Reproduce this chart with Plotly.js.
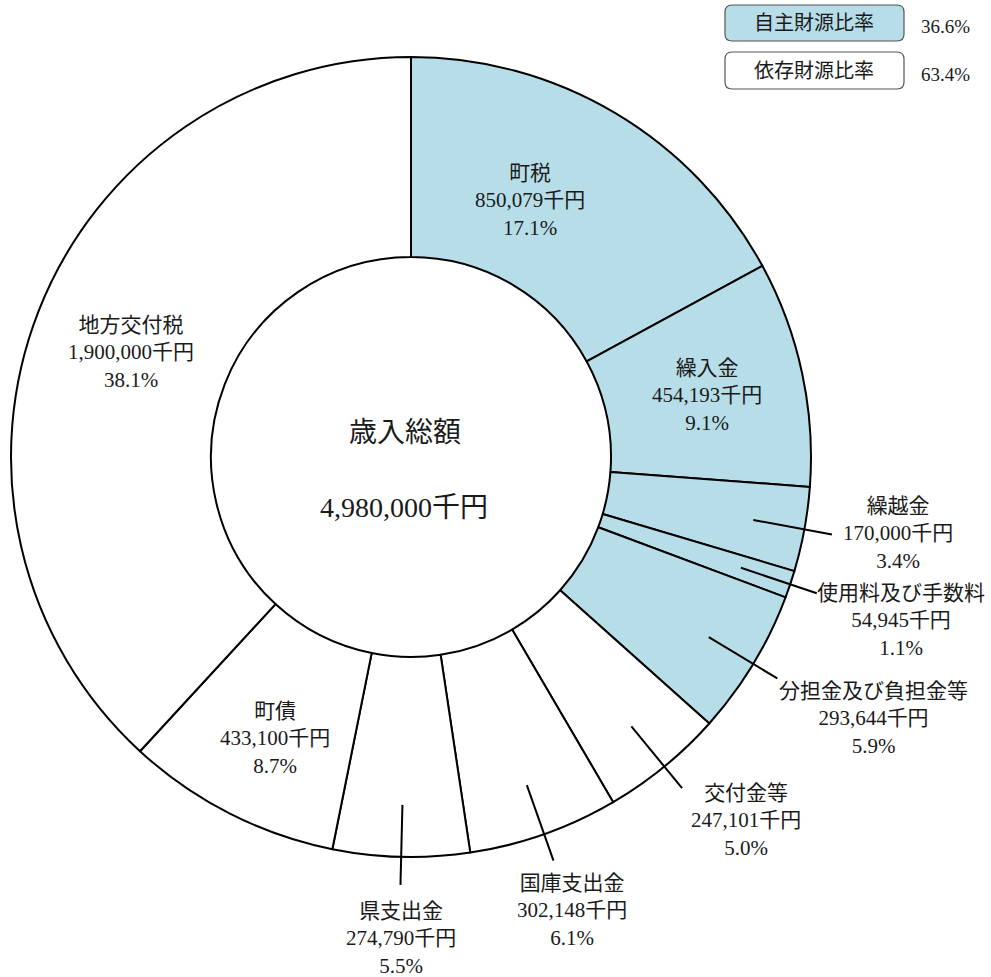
<!DOCTYPE html>
<html>
<head>
<meta charset="utf-8">
<script src="https://cdn.plot.ly/plotly-3.0.1.min.js"></script>
<style>html,body{margin:0;padding:0;background:#fff;}#chart{width:991px;height:977px;}</style>
</head>
<body>
<div id="chart"></div>
<script>
// ---- data ----
const categories = ['町税','繰入金','繰越金','使用料及び手数料','分担金及び負担金等','交付金等','国庫支出金','県支出金','町債','地方交付税'];
const values = [850079, 454193, 170000, 54945, 293644, 247101, 302148, 274790, 433100, 1900000];
const percentLabels = ['17.1%','9.1%','3.4%','1.1%','5.9%','5.0%','6.1%','5.5%','8.7%','38.1%'];
const sourceGroup = ['自主','自主','自主','自主','自主','依存','依存','依存','依存','依存'];
const ratioLabels = ['自主財源比率','依存財源比率'];
const ratioValues = ['36.6%','63.4%'];
const totalTitle = '歳入総額';
const unit = '千円';

// ---- layout helpers ----
const W = 991, H = 977;
const px = x => x / W;
const py = y => 1 - y / H;
const FONT = "'Liberation Serif', 'Noto Sans CJK JP', serif";
const TXT = '#1a1a1a';
const BLUE = '#b7dde8';

const cx = 411, cy = 457, R = 400; // pie centre/radius in px
const domainX = [px(cx - R), px(cx + R)];
const domainY = [py(cy + R), py(cy - R)];

const fmt = n => n.toLocaleString('en-US');
const total = values.reduce((a, b) => a + b, 0);

// label placement (px, centre of text block) and which labels get leader lines
const labelPos = [[530,200],[707,395],[898,533],[901,620],[873,718],[746,820],[572,910],[401,938],[275,738],[131,352]];
const hasLeader = [false,false,true,true,true,true,true,true,false,false];

const annotations = [];
const shapes = [];

let cum = 0;
values.forEach((v, i) => {
  const mid = (cum + v / 2) / total * 2 * Math.PI;
  cum += v;
  annotations.push({
    xref: 'paper', yref: 'paper', x: px(labelPos[i][0]), y: py(labelPos[i][1]),
    xanchor: 'center', yanchor: 'middle', showarrow: false, align: 'center',
    text: categories[i] + '<br>' + fmt(v) + unit + '<br>' + percentLabels[i],
    font: {family: FONT, size: 21, color: TXT}
  });
  if (hasLeader[i]) {
    const r1 = R * 0.87, r2 = R * 1.07;
    shapes.push({
      type: 'line', xref: 'paper', yref: 'paper',
      x0: px(cx + r1 * Math.sin(mid)), y0: py(cy - r1 * Math.cos(mid)),
      x1: px(cx + r2 * Math.sin(mid)), y1: py(cy - r2 * Math.cos(mid)),
      line: {color: '#000', width: 2}
    });
  }
});

// centre text
annotations.push({xref:'paper', yref:'paper', x: px(405), y: py(432), xanchor:'center', yanchor:'middle', showarrow:false,
  text: totalTitle, font:{family: FONT, size: 28, color: TXT}});
annotations.push({xref:'paper', yref:'paper', x: px(404), y: py(507), xanchor:'center', yanchor:'middle', showarrow:false,
  text: fmt(total) + unit, font:{family: FONT, size: 28, color: TXT}});

// ratio boxes
function roundRect(x0, y0, x1, y1, r) {
  const X = px, Y = py;
  return `M ${X(x0 + r)} ${Y(y0)} L ${X(x1 - r)} ${Y(y0)} Q ${X(x1)} ${Y(y0)} ${X(x1)} ${Y(y0 + r)} ` +
         `L ${X(x1)} ${Y(y1 - r)} Q ${X(x1)} ${Y(y1)} ${X(x1 - r)} ${Y(y1)} ` +
         `L ${X(x0 + r)} ${Y(y1)} Q ${X(x0)} ${Y(y1)} ${X(x0)} ${Y(y1 - r)} ` +
         `L ${X(x0)} ${Y(y0 + r)} Q ${X(x0)} ${Y(y0)} ${X(x0 + r)} ${Y(y0)} Z`;
}
const boxY = [[5, 41], [52, 89]];
const boxFill = [BLUE, '#ffffff'];
ratioLabels.forEach((lab, i) => {
  shapes.push({type:'path', xref:'paper', yref:'paper', path: roundRect(725, boxY[i][0], 904, boxY[i][1], 7),
    fillcolor: boxFill[i], line:{color:'#555', width:1.2}, layer:'above'});
  const ym = (boxY[i][0] + boxY[i][1]) / 2;
  annotations.push({xref:'paper', yref:'paper', x: px(814), y: py(ym), xanchor:'center', yanchor:'middle', showarrow:false,
    text: lab, font:{family: FONT, size: 20, color: TXT}});
  annotations.push({xref:'paper', yref:'paper', x: px(945), y: py(ym + 4), xanchor:'center', yanchor:'middle', showarrow:false,
    text: ratioValues[i], font:{family: FONT, size: 19, color: TXT}});
});

const trace = {
  type: 'pie',
  labels: categories,
  values: values,
  sort: false,
  direction: 'clockwise',
  rotation: 0,
  hole: 0.5,
  textinfo: 'none',
  hoverinfo: 'none',
  showlegend: false,
  domain: {x: domainX, y: domainY},
  marker: {
    colors: sourceGroup.map(g => g === '自主' ? BLUE : '#ffffff'),
    line: {color: '#000000', width: 2}
  }
};

const layout = {
  width: W, height: H,
  margin: {l: 0, r: 0, t: 0, b: 0},
  paper_bgcolor: '#ffffff',
  plot_bgcolor: '#ffffff',
  showlegend: false,
  annotations: annotations,
  shapes: shapes
};

Plotly.newPlot('chart', [trace], layout, {displayModeBar: false, staticPlot: true});
</script>
</body>
</html>
